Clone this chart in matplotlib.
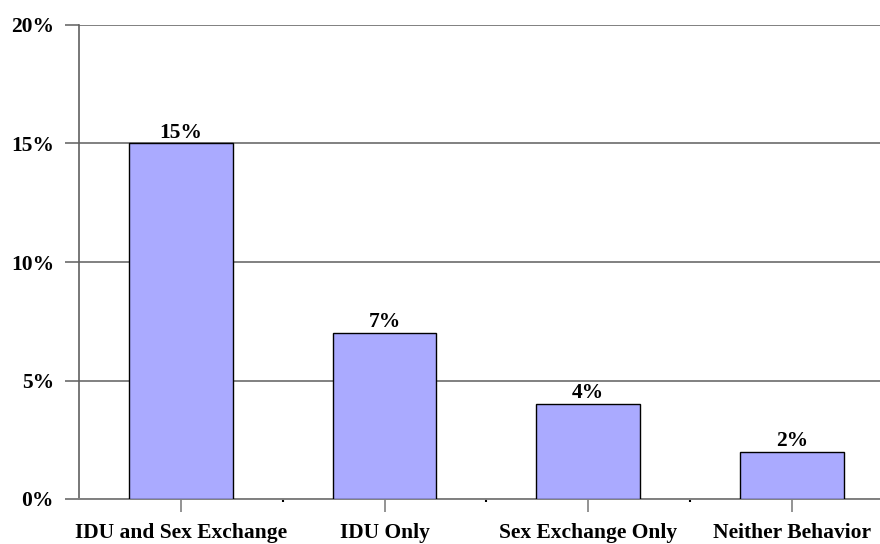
import matplotlib
matplotlib.use("Agg")
import matplotlib.pyplot as plt
from matplotlib.ticker import FixedLocator

categories = ["IDU and Sex Exchange", "IDU Only", "Sex Exchange Only", "Neither Behavior"]
values = [15, 7, 4, 2]
yticks = [0, 5, 10, 15, 20]
ytick_labels = ["0%", "5%", "10%", "15%", "20%"]

plt.rcParams['font.family'] = ['Liberation Serif', 'DejaVu Serif']
plt.rcParams['font.weight'] = 'bold'

fig = plt.figure(figsize=(8.8, 5.44), dpi=100)
left = 79 / 880
bottom = (544 - 499) / 544
top = (544 - 25) / 544
width = (79 + 4 * 203.7) / 880 - left
ax = fig.add_axes([left, bottom, width, top - bottom])

x = list(range(len(categories)))
ax.bar(x, values, width=0.51, color="#AAAAFF", edgecolor="black", linewidth=1.0, zorder=3)
for xi, v in zip(x, values):
    ax.text(xi, v + 0.04, f"{v}%", ha="center", va="bottom", fontsize=15.5, fontweight="bold", zorder=4)

ax.set_xlim(-0.5, 3.5)
ax.set_ylim(0, 20)
ax.set_yticks(yticks)
ax.set_yticklabels(ytick_labels, fontsize=15.5, fontweight="bold")
ax.yaxis.grid(True, color="#808080", linewidth=1.4, zorder=1)
ax.set_axisbelow(True)
ax.tick_params(axis="y", length=10, width=1.4, color="#808080", pad=8)

ax.set_xticks(x)
ax.set_xticklabels(categories, fontsize=15.5, fontweight="bold")
ax.xaxis.set_minor_locator(FixedLocator([0.5, 1.5, 2.5]))
ax.tick_params(axis="x", which="major", length=9, width=1.2, color="#808080", pad=8)
ax.tick_params(axis="x", which="minor", length=2, width=1.5, color="black")

for s in ["top", "right"]:
    ax.spines[s].set_visible(False)
ax.spines["left"].set_color("#606060")
ax.spines["left"].set_linewidth(1.2)
ax.spines["bottom"].set_color("#808080")
ax.spines["bottom"].set_linewidth(1.4)

fig.savefig("out.png", dpi=100)
